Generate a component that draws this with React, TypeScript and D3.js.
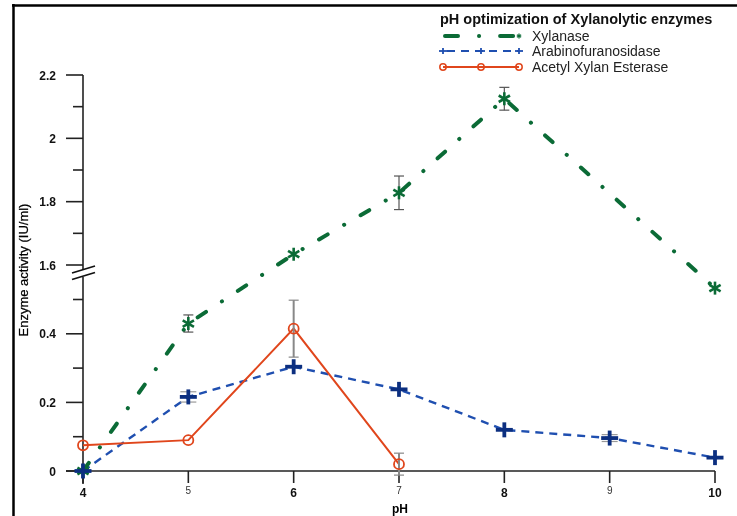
import { useEffect, useRef } from 'react';
import * as d3 from 'd3';

// pH values on the x axis
const phValues = [4, 5, 6, 7, 8, 9, 10];
const xMajorLabels = [4, 6, 8, 10];

// enzyme activity (IU/ml); null = no point at that pH
const xylanase: (number | null)[] = [0, 0.43, 1.634, 1.828, 2.125, null, 1.527];
const xylanaseErr = [0, 0.025, 0, 0.053, 0.036, 0, 0];
const arabinofuranosidase = [0, 0.216, 0.304, 0.238, 0.12, 0.096, 0.039];
const arabinofuranosidaseErr = [0, 0.015, 0, 0, 0, 0.01, 0];
const acetylXylanEsterase: (number | null)[] = [0.075, 0.09, 0.415, 0.02, null, null, null];
const acetylXylanEsteraseErr = [0, 0, 0.083, 0.032, 0, 0, 0];

// broken y axis: lower and upper segments
const lowerTicks = [0, 0.2, 0.4];
const lowerMinor = [0.1, 0.3, 0.5];
const upperTicks = [1.6, 1.8, 2, 2.2];
const upperMinor = [1.7, 1.9, 2.1];

const seriesNames = ['Xylanase', 'Arabinofuranosidase', 'Acetyl Xylan Esterase'];
const legendTitle = 'pH optimization of Xylanolytic enzymes';

const GREEN = '#0b6b36';
const BLUE = '#1f4fb0';
const NAVY = '#0c2f80';
const RED = '#e0461c';
const FONT = 'Arial, "Liberation Sans", sans-serif';

const App = () => {
  const ref = useRef<SVGSVGElement | null>(null);

  useEffect(() => {
    if (!ref.current) return;
    const svg = d3.select(ref.current);
    svg.selectAll('*').remove();

    const width = 737;
    const height = 516;
    svg.attr('width', width).attr('height', height).attr('viewBox', `0 0 ${width} ${height}`);

    const x = d3.scaleLinear().domain([4, 10]).range([83, 715]);
    const yLow = d3.scaleLinear().domain([0, 0.5]).range([471, 299.5]);
    const yHigh = d3.scaleLinear().domain([1.6, 2.2]).range([265, 75]);
    const y = (v: number) => (v >= 1 ? yHigh(v) : yLow(v));

    // frame lines
    svg.append('line').attr('x1', 12).attr('x2', width).attr('y1', 5.5).attr('y2', 5.5)
      .attr('stroke', '#000').attr('stroke-width', 2.5);
    svg.append('line').attr('x1', 13.5).attr('x2', 13.5).attr('y1', 4).attr('y2', height)
      .attr('stroke', '#000').attr('stroke-width', 2.5);

    const axisG = svg.append('g').attr('stroke', '#222').attr('stroke-width', 1.6);
    const breakY = 273;

    // y axis line with break
    axisG.append('line').attr('x1', 83).attr('x2', 83).attr('y1', yHigh(2.2)).attr('y2', breakY - 3);
    axisG.append('line').attr('x1', 83).attr('x2', 83).attr('y1', breakY + 4).attr('y2', 484);
    [-3.5, 3].forEach((dy) => {
      axisG.append('line')
        .attr('x1', 72).attr('y1', breakY + dy + 3.5)
        .attr('x2', 95).attr('y2', breakY + dy - 3.5)
        .attr('stroke', '#111').attr('stroke-width', 1.8);
    });

    const yTicks = [...lowerTicks.map((v) => yLow(v)), ...upperTicks.map((v) => yHigh(v))];
    yTicks.forEach((py) => {
      axisG.append('line').attr('x1', 66).attr('x2', 83).attr('y1', py).attr('y2', py);
    });
    [...lowerMinor.map((v) => yLow(v)), ...upperMinor.map((v) => yHigh(v))].forEach((py) => {
      axisG.append('line').attr('x1', 73).attr('x2', 83).attr('y1', py).attr('y2', py);
    });

    [...lowerTicks.map((v) => ({ v, py: yLow(v) })), ...upperTicks.map((v) => ({ v, py: yHigh(v) }))]
      .forEach(({ v, py }) => {
        svg.append('text')
          .attr('x', 56).attr('y', py + 4.5)
          .attr('text-anchor', 'end')
          .attr('font-family', FONT).attr('font-size', 12).attr('font-weight', 'bold')
          .attr('fill', '#111')
          .text(d3.format('~g')(v));
      });

    // x axis
    axisG.append('line').attr('x1', 66).attr('x2', x(10)).attr('y1', 471).attr('y2', 471);
    phValues.forEach((p) => {
      axisG.append('line').attr('x1', x(p)).attr('x2', x(p)).attr('y1', 471).attr('y2', 483);
      const major = xMajorLabels.includes(p);
      svg.append('text')
        .attr('x', x(p)).attr('y', major ? 497 : 494)
        .attr('text-anchor', 'middle')
        .attr('font-family', FONT)
        .attr('font-size', major ? 12 : 10)
        .attr('font-weight', major ? 'bold' : 'normal')
        .attr('fill', major ? '#111' : '#333')
        .text(p);
    });

    svg.append('text')
      .attr('x', 400).attr('y', 513)
      .attr('text-anchor', 'middle')
      .attr('font-family', FONT).attr('font-size', 12).attr('font-weight', 'bold')
      .text('pH');

    svg.append('text')
      .attr('transform', `translate(28,270) rotate(-90)`)
      .attr('text-anchor', 'middle')
      .attr('font-family', '"Liberation Sans Narrow", Arial, sans-serif')
      .attr('font-size', 13)
      .attr('fill', '#000')
      .attr('stroke', '#000').attr('stroke-width', 0.25)
      .text('Enzyme activity (IU/ml)');

    type Pt = { p: number; v: number; e: number };
    const toPts = (vals: (number | null)[], errs: number[]): Pt[] =>
      phValues
        .map((p, i) => ({ p, v: vals[i] as number, e: errs[i] }))
        .filter((d) => d.v !== null && d.v !== undefined);

    const xylPts = toPts(xylanase, xylanaseErr);
    const araPts = toPts(arabinofuranosidase, arabinofuranosidaseErr);
    const estPts = toPts(acetylXylanEsterase, acetylXylanEsteraseErr);

    const line = d3.line<Pt>().x((d) => x(d.p)).y((d) => y(d.v));

    svg.append('path').datum(araPts).attr('d', line).attr('fill', 'none')
      .attr('stroke', BLUE).attr('stroke-width', 2.4).attr('stroke-dasharray', '8 6');
    svg.append('path').datum(estPts).attr('d', line).attr('fill', 'none')
      .attr('stroke', RED).attr('stroke-width', 2);
    svg.append('path').datum(xylPts).attr('d', line).attr('fill', 'none')
      .attr('stroke', GREEN).attr('stroke-width', 4).attr('stroke-linecap', 'round')
      .attr('stroke-dasharray', '10 19 0.1 19');

    // error bars
    const errBars = (pts: Pt[], color: string, w: number, cap: number) => {
      pts.filter((d) => d.e > 0).forEach((d) => {
        const cx = x(d.p);
        const top = y(d.v + d.e);
        const bot = y(d.v - d.e);
        const g = svg.append('g').attr('stroke', color).attr('stroke-width', w);
        g.append('line').attr('x1', cx).attr('x2', cx).attr('y1', top).attr('y2', bot);
        g.append('line').attr('x1', cx - cap).attr('x2', cx + cap).attr('y1', top).attr('y2', top).attr('stroke-width', 1.2);
        g.append('line').attr('x1', cx - cap).attr('x2', cx + cap).attr('y1', bot).attr('y2', bot).attr('stroke-width', 1.2);
      });
    };
    errBars(xylPts, '#555', 1.2, 5);
    errBars(estPts, '#888', 2, 5);
    errBars(araPts, '#999', 1.5, 8);

    const asterisk = (g: d3.Selection<SVGGElement, unknown, null, undefined>, cx: number, cy: number, r: number) => {
      [90, 30, 150].forEach((a) => {
        const rad = (a * Math.PI) / 180;
        g.append('line')
          .attr('x1', cx - r * Math.cos(rad)).attr('y1', cy - r * Math.sin(rad))
          .attr('x2', cx + r * Math.cos(rad)).attr('y2', cy + r * Math.sin(rad));
      });
    };
    const plus = (g: d3.Selection<SVGGElement, unknown, null, undefined>, cx: number, cy: number, r: number) => {
      g.append('line').attr('x1', cx - r).attr('x2', cx + r).attr('y1', cy).attr('y2', cy);
      g.append('line').attr('x1', cx).attr('x2', cx).attr('y1', cy - r + 1).attr('y2', cy + r - 1);
    };

    const xylMarks = svg.append('g').attr('stroke', GREEN).attr('stroke-width', 2.6);
    xylPts.forEach((d) => asterisk(xylMarks, x(d.p), y(d.v), 6.5));
    const araMarks = svg.append('g').attr('stroke', NAVY).attr('stroke-width', 3.8);
    araPts.forEach((d) => plus(araMarks, x(d.p), y(d.v), 8.5));
    svg.append('g').selectAll('circle').data(estPts).enter().append('circle')
      .attr('cx', (d) => x(d.p)).attr('cy', (d) => y(d.v)).attr('r', 5)
      .attr('fill', 'none').attr('stroke', RED).attr('stroke-width', 1.8);

    // legend
    const leg = svg.append('g');
    leg.append('text')
      .attr('x', 440).attr('y', 24)
      .attr('font-family', FONT).attr('font-size', 14.5).attr('font-weight', 'bold')
      .attr('fill', '#111')
      .text(legendTitle);
    const rows = [36, 51, 67];
    const lx0 = 443;
    const lx1 = 519;
    seriesNames.forEach((name, i) => {
      const ry = rows[i];
      leg.append('text')
        .attr('x', 532).attr('y', ry + 5)
        .attr('font-family', FONT).attr('font-size', 14)
        .attr('fill', '#222')
        .text(name);
    });
    // xylanase sample
    leg.append('line').attr('x1', 445).attr('x2', 514).attr('y1', rows[0]).attr('y2', rows[0])
      .attr('stroke', GREEN).attr('stroke-width', 4).attr('stroke-linecap', 'round')
      .attr('stroke-dasharray', '13 21 0.1 21');
    const legX = leg.append('g').attr('stroke', GREEN).attr('stroke-width', 1.3);
    asterisk(legX, lx1, rows[0], 2.5);
    // arabinofuranosidase sample
    leg.append('line').attr('x1', lx0).attr('x2', lx1).attr('y1', rows[1]).attr('y2', rows[1])
      .attr('stroke', BLUE).attr('stroke-width', 2.2).attr('stroke-dasharray', '8 6')
      .attr('stroke-dashoffset', -4);
    const legA = leg.append('g').attr('stroke', BLUE).attr('stroke-width', 1.8);
    [lx0, (lx0 + lx1) / 2, lx1].forEach((px) => plus(legA, px, rows[1], 4));
    // esterase sample
    leg.append('line').attr('x1', lx0).attr('x2', lx1).attr('y1', rows[2]).attr('y2', rows[2])
      .attr('stroke', RED).attr('stroke-width', 2);
    [lx0, (lx0 + lx1) / 2, lx1].forEach((px) => {
      leg.append('circle').attr('cx', px).attr('cy', rows[2]).attr('r', 3.2)
        .attr('fill', 'none').attr('stroke', RED).attr('stroke-width', 1.5);
    });
  }, []);

  return (
    <div style={{ position: 'fixed', left: 0, top: 0 }}>
      <svg ref={ref} role="img" aria-label="pH optimization of Xylanolytic enzymes" style={{ display: 'block' }} />
    </div>
  );
};

export default App;
